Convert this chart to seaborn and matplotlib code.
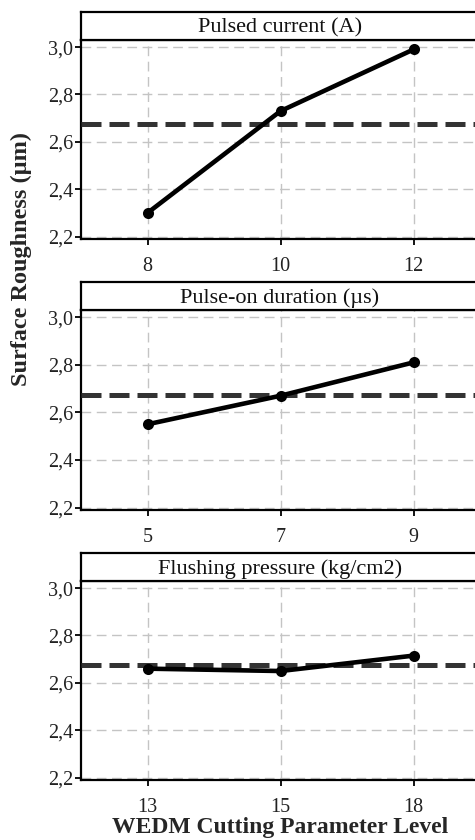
import matplotlib
matplotlib.use("Agg")
import matplotlib.pyplot as plt
import seaborn as sns
from matplotlib.ticker import FuncFormatter

# --- data ---
titles = ["Pulsed current (A)", "Pulse-on duration (\u00b5s)", "Flushing pressure (kg/cm2)"]
levels_current = ["8", "10", "12"]
ra_current = [2.30, 2.73, 2.99]
levels_pulse = ["5", "7", "9"]
ra_pulse = [2.55, 2.67, 2.81]
levels_flush = ["13", "15", "18"]
ra_flush = [2.66, 2.65, 2.715]
grand_mean = 2.675
y_ticks = [2.2, 2.4, 2.6, 2.8, 3.0]

sns.set_style("white")
plt.rcParams['font.family'] = ['Liberation Serif', 'DejaVu Serif']

W, H = 475, 840
fig = plt.figure(figsize=(W / 100, H / 100), dpi=100)

# panel boxes in pixels: (strip top, axes top, axes bottom)
boxes = [(12, 40, 239), (282, 310, 510), (553, 581, 780)]
left_px, width_px = 81, 399

panels = [(levels_current, ra_current), (levels_pulse, ra_pulse), (levels_flush, ra_flush)]

fmt = FuncFormatter(lambda v, p: f"{v:.1f}".replace('.', ','))

for i, ((lv, ra), (st, at, ab)) in enumerate(zip(panels, boxes)):
    ax = fig.add_axes([left_px / W, 1 - ab / H, width_px / W, (ab - at) / H])
    sns.pointplot(x=lv, y=ra, ax=ax, color='black', markers='o',
                  markersize=5.5, linewidth=3.3, errorbar=None, zorder=5)
    ax.axhline(grand_mean, color='#333333', lw=3.6, linestyle=(0, (4, 1.6)), zorder=4)
    ax.set_xlim(-0.5, 2.5)
    ax.set_ylim(2.19, 3.03)
    ax.set_yticks(y_ticks)
    ax.yaxis.set_major_formatter(fmt)
    ax.grid(True, color='#c4c4c4', lw=1.0, linestyle=(0, (7, 4)))
    ax.set_axisbelow(True)
    for s in ['left', 'bottom', 'top']:
        ax.spines[s].set_color('black')
        ax.spines[s].set_linewidth(1.6)
    ax.spines['right'].set_visible(False)
    ax.tick_params(axis='both', which='major', direction='out', length=4, width=1.3,
                   color='black', labelsize=14.5, labelcolor='#222222')
    ax.tick_params(axis='x', pad=9)
    ax.tick_params(axis='y', pad=1.5)
    ax.tick_params(left=True, bottom=True)
    ax.set_xlabel('')
    ax.set_ylabel('')

    # strip on top of each panel
    sax = fig.add_axes([left_px / W, 1 - at / H, width_px / W, (at - st) / H])
    sax.set_xticks([])
    sax.set_yticks([])
    sax.set_facecolor('white')
    for s in sax.spines.values():
        s.set_color('black')
        s.set_linewidth(1.6)
    sax.text(199 / width_px, 0.42, titles[i], transform=sax.transAxes,
             ha='center', va='center', fontsize=16, color='#111111')

    if i == 2:
        ax.set_xlabel('WEDM Cutting Parameter Level', fontsize=17,
                      fontweight='bold', labelpad=0)

fig.text(21 / W, 1 - 259 / H, 'Surface Roughness (\u00b5m)', rotation=90,
         ha='center', va='center', fontsize=17.5, fontweight='bold')

fig.savefig('out.png', dpi=100)
